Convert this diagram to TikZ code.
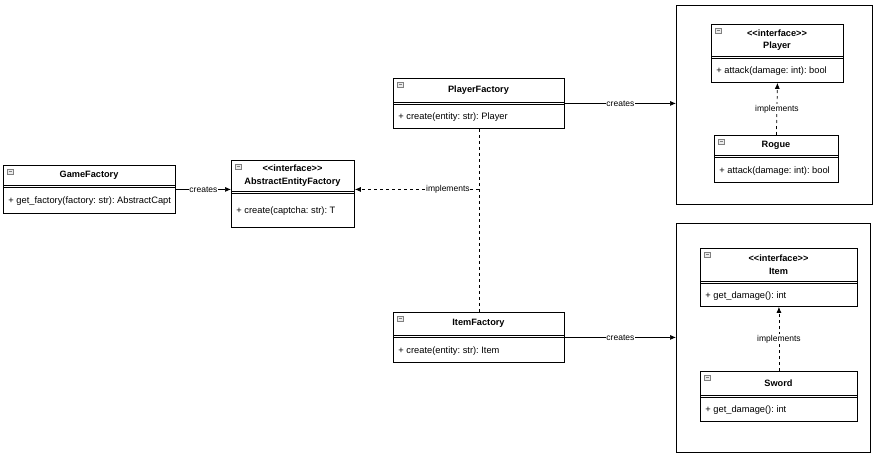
\documentclass[tikz,border=0pt]{standalone}
\usepackage{fontspec}
\setmainfont{Liberation Sans}
\frenchspacing
\usetikzlibrary{
	positioning,
	calc,
	arrows.meta
}
\tikzset{
	every picture/.style={
		line width=.3mm,
		x=1pt,
		y=-1pt,
	},
}
\tikzstyle{classbox} = [
	draw=black,
	fill=white,
	inner sep=0mm,
	anchor=north west
]
\tikzstyle{classtitle} = [font=\fontsize{9.2}{12.5}\selectfont\bfseries, align=center, inner sep=0mm]
\tikzstyle{classmethod} = [font=\fontsize{9.3}{11}\selectfont, anchor=west, inner sep=0mm]
\tikzstyle{lbl} = [font=\fontsize{8.5}{10}\selectfont, fill=white, inner sep=.3mm]
\tikzstyle{icon} = [draw=gray, fill=gray!15, line width=.2mm]
\tikzstyle{creates} = [-{Latex[length=6pt, width=5pt]}, line width=.25mm]
\tikzstyle{impl} = [creates, dashed]
\tikzstyle{group} = [draw=black, inner sep=0mm, anchor=north west, line width=.25mm]
\newcommand{\umlclass}[8]{
	\node[classbox, minimum width=#4pt, minimum height=#6pt] (#1) at (#2, #3) {};
	\node[classtitle] (#1-title) at (#2+#4/2, #3+#5/2) {#7};
	\draw[line width=.25mm] (#2, #3+#5) -- ++(#4, 0) (#2, #3+#5+2.5) -- ++(#4, 0);
	\node[classmethod] (#1-method) at (#2+5, #3+#5/2+#6/2+2.5) {#8};
	\draw[icon] (#2+4, #3+4) rectangle ++(6, 5);
	\draw[line width=.2mm, gray] (#2+5.5, #3+6.5) -- ++(3, 0);
}
\newcommand{\iface}{<{}<interface>{}>}

\begin{document}
\begin{tikzpicture}
	\useasboundingbox[fill=white] (0, 0) rectangle (875, 460);

	\node[group, minimum width=196pt, minimum height=199pt] (players) at (676, 5) {};
	\node[group, minimum width=194pt, minimum height=229pt] (items) at (676, 223) {};

	\umlclass{game}{3}{165}{172}{20}{48}{GameFactory}{+ get\_factory(factory: str): AbstractCapt}
	\umlclass{abstract}{231}{160}{123}{31}{67}{\iface\\AbstractEntityFactory}{+ create(captcha: str): T}
	\umlclass{playerf}{393}{78}{171}{24}{50}{PlayerFactory}{+ create(entity: str): Player}
	\umlclass{itemf}{393}{312}{171}{23}{50}{ItemFactory}{+ create(entity: str): Item}
	\umlclass{player}{711}{24}{132}{32}{58}{\iface\\Player}{+ attack(damage: int): bool}
	\umlclass{rogue}{714}{135}{124}{20}{47}{Rogue}{+ attack(damage: int): bool}
	\umlclass{item}{700}{248}{157}{33}{58}{\iface\\Item}{+ get\_damage(): int}
	\umlclass{sword}{700}{371}{157}{24}{50}{Sword}{+ get\_damage(): int}

	\draw[creates] (game.east) -- node[lbl] {creates} (game.east -| abstract.west);
	\draw[creates] (playerf.east) -- node[lbl] {creates} (playerf.east -| players.west);
	\draw[creates] (itemf.east) -- node[lbl] {creates} (itemf.east -| items.west);

	\draw[dashed, line width=.25mm] (playerf.south) -- (itemf.north);
	\draw[impl] (playerf.south |- game.east) -- node[lbl, pos=.25] {implements} (abstract.east |- game.east);
	\draw[impl] (rogue.north) -- node[lbl] {implements} (player.south);
	\draw[impl] (sword.north) -- node[lbl] {implements} (item.south);
\end{tikzpicture}
\end{document}
